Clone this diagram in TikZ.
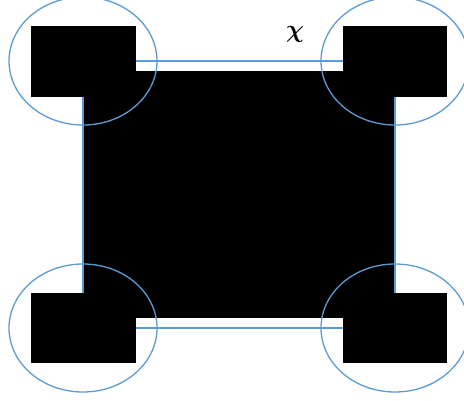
\documentclass[tikz,border=0pt]{standalone}
\usepackage{amsmath,amssymb}
\definecolor{ringblue}{HTML}{5B9BD5}

\begin{document}
\begin{tikzpicture}[x=1pt, y=-1pt,
    pad/.style={fill=black},
    ring/.style={draw=ringblue, line width=1.3pt}]

\useasboundingbox (0,0) rectangle (464,400);

% ===================== CORNER CENTRES =====================
\coordinate (tl) at (83,61);
\coordinate (tr) at (395,61);
\coordinate (bl) at (83,328);
\coordinate (br) at (395,328);

% ===================== CENTRAL BLOCK =====================
\fill[black] (83,71) rectangle (395,318);

% Frame through the corner centres
\draw[ring] (tl) rectangle (br);

% ===================== CORNER PADS =====================
\fill[pad] (31,26) rectangle (136,97);
\fill[pad] (343,26) rectangle (447,97);
\fill[pad] (31,293) rectangle (136,363);
\fill[pad] (343,293) rectangle (447,363);

% Rings round the corners
\draw[ring] (tl) ellipse (74 and 64);
\draw[ring] (tr) ellipse (74 and 64);
\draw[ring] (bl) ellipse (74 and 64);
\draw[ring] (br) ellipse (74 and 64);

% Label
\node[font=\fontsize{32}{34}\selectfont, inner sep=0pt] (chi) at (295,34) {$\boldsymbol{\chi}$};

\end{tikzpicture}
\end{document}
